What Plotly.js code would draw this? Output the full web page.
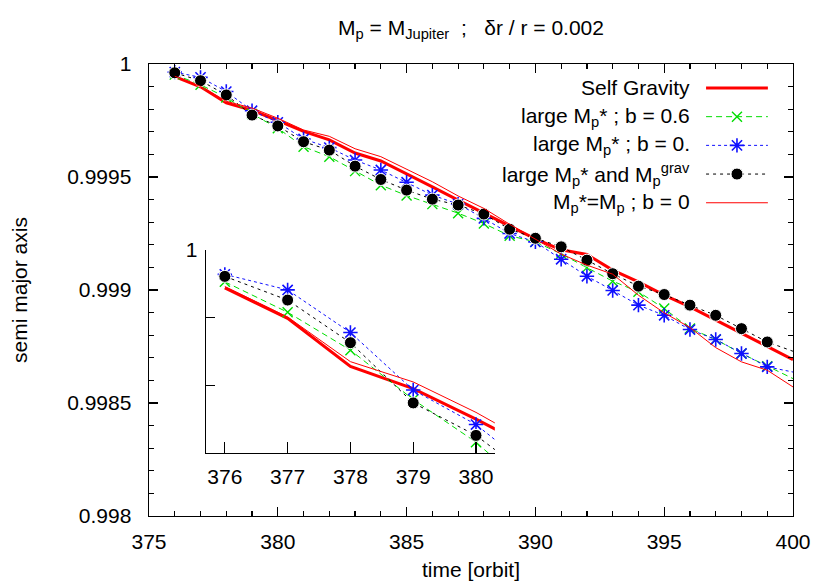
<!DOCTYPE html>
<html><head><meta charset="utf-8">
<script src="https://cdn.plot.ly/plotly-3.0.1.min.js"></script>
<style>html,body{margin:0;padding:0;background:#fff}#chart{width:830px;height:581px}</style>
</head><body><div id="chart"></div>
<script>
// ---- data ----
const orbits = [376,377,378,379,380,381,382,383,384,385,386,387,388,389,390,391,392,393,394,395,396,397,398,399,400];
const selfGravity = [0.999944,0.999899,0.999828,0.999795,0.999750,0.999702,0.999664,0.999606,0.999571,0.999512,0.999456,0.999398,0.999339,0.999283,0.999226,0.999178,0.999157,0.999088,0.999036,0.998977,0.998925,0.998866,0.998807,0.998751,0.998692];
const largeMpB06 = [0.999953,0.999908,0.999852,0.999779,0.999716,0.999634,0.999590,0.999526,0.999464,0.999418,0.999380,0.999340,0.999294,0.999240,0.999213,0.999160,0.999099,0.999039,0.998992,0.998918,0.998830,0.998781,0.998719,0.998663,0.998608];
const largeMpB0 = [0.999964,0.999941,0.999878,0.999793,0.999742,0.999668,0.999630,0.999575,0.999531,0.999477,0.999420,0.999380,0.999317,0.999250,0.999213,0.999136,0.999061,0.998998,0.998933,0.998888,0.998825,0.998781,0.998719,0.998660,0.998637];
const largeMpGrav = [0.999961,0.999926,0.999863,0.999774,0.999726,0.999656,0.999619,0.999548,0.999489,0.999442,0.999402,0.999376,0.999336,0.999269,0.999229,0.999191,0.999132,0.999072,0.999017,0.998980,0.998933,0.998888,0.998829,0.998770,0.998729];
const mpEqualMp = [0.999946,0.999901,0.999835,0.999805,0.999760,0.999708,0.999680,0.999625,0.999590,0.999535,0.999479,0.999416,0.999361,0.999291,0.999224,0.999159,0.999110,0.999070,0.998977,0.998899,0.998834,0.998745,0.998682,0.998645,0.998571];

const xTickVals = [375,380,385,390,395,400];
const yTickVals = [0.998,0.9985,0.999,0.9995,1];
const yTickText = ['0.998','0.9985','0.999','0.9995','1'];
const insetXTicks = [376,377,378,379,380];
const insetYTicks = [0.9998,0.9999,1];
const insetYText = ['','','1'];

const legendLabels = [
  'Self Gravity',
  'large M<sub>p</sub>* ; b = 0.6',
  'large M<sub>p</sub>* ; b = 0.',
  'large M<sub>p</sub>* and M<sub>p</sub><sup>grav</sup>',
  'M<sub>p</sub>*=M<sub>p</sub> ; b = 0'
];
const titleText = 'M<sub>p</sub> = M<sub>Jupiter</sub>\u00a0\u00a0;\u00a0\u00a0 δr / r = 0.002';

// ---- styles ----
const FONT = '"Liberation Sans", Arial, Helvetica, sans-serif';
const FS = 21;
const xMax = 400;
const styles = [
  {y: selfGravity, line:{color:'#ff0000', width:3}, mode:'lines'},
  {y: largeMpB06, line:{color:'#00dd00', width:1, dash:'6px,4px'}, mode:'lines+markers',
    marker:{symbol:'x-thin-open', size:10, opacity:1, line:{color:'#00dd00', width:1.4}}},
  {y: largeMpB0, line:{color:'#1010ff', width:1, dash:'3px,3px'}, mode:'lines+markers',
    marker:{symbol:'asterisk-open', size:12, opacity:1, line:{color:'#0000ff', width:1.6}}},
  {y: largeMpGrav, line:{color:'#000000', width:1, dash:'3px,4px'}, mode:'lines+markers',
    marker:{symbol:'circle', size:12, opacity:1, color:'#000000'}},
  {y: mpEqualMp, line:{color:'#ff0000', width:1}, mode:'lines'}
];

const traces = [];
function addSet(xa, ya) {
  styles.forEach(s => {
    const t = {x: orbits, y: s.y, xaxis: xa, yaxis: ya, mode: s.mode, line: s.line, hoverinfo:'skip', cliponaxis:true};
    if (s.marker) {
      t.marker = Object.assign({}, s.marker, {size: orbits.map(o => o < xMax ? s.marker.size : 0)});
    }
    traces.push(t);
  });
}
addSet('x','y');
addSet('x2','y2');

// legend samples on a hidden helper axis
const legendTop = 0.947, rowStep = 0.0635;
const sampleX = [0, 0.5, 1];
styles.forEach((s, i) => {
  const yr = legendTop - i*rowStep;
  const t = {x: sampleX, y: sampleX.map(() => yr), xaxis:'x3', yaxis:'y3', mode: s.mode, line: s.line, hoverinfo:'skip', cliponaxis:false};
  if (s.marker) t.marker = Object.assign({}, s.marker, {size: sampleX.map(v => v === 0.5 ? s.marker.size : 0)});
  traces.push(t);
});
const annotations = legendLabels.map((txt, i) => ({
  text: txt, xref:'paper', yref:'paper', x:0.843, y: legendTop - i*rowStep,
  xanchor:'right', yanchor:'middle', showarrow:false, font:{family:FONT, size:FS, color:'#000'}
}));

const axisCommon = {
  showgrid:false, zeroline:false, showline:true, linecolor:'#000', linewidth:1.4,
  ticks:'inside', tickcolor:'#000', tickwidth:1.2,
  tickfont:{family:FONT, size:FS, color:'#000'}
};

const layout = {
  width:830, height:581,
  margin:{l:149, r:37, t:64, b:65},
  paper_bgcolor:'#fff', plot_bgcolor:'rgba(0,0,0,0)',
  showlegend:false,
  font:{family:FONT, size:FS, color:'#000'},
  title:{text:titleText, x:0.5, xref:'paper', xanchor:'center', y:0.953, yref:'container', yanchor:'middle',
    font:{family:FONT, size:FS, color:'#000'}},
  xaxis: Object.assign({}, axisCommon, {
    range:[375,400], tickvals:xTickVals, ticklen:9, mirror:'ticks', ticklabelstandoff:6,
    minor:{dtick:1, ticklen:5, ticks:'inside', tickcolor:'#000', tickwidth:1.2},
    title:{text:'time [orbit]', standoff:10, font:{family:FONT, size:FS, color:'#000'}}
  }),
  yaxis: Object.assign({}, axisCommon, {
    range:[0.998,1], tickvals:yTickVals, ticktext:yTickText, ticklen:9, mirror:'ticks', ticklabelstandoff:12,
    minor:{dtick:0.0001, ticklen:5, ticks:'inside', tickcolor:'#000', tickwidth:1.2},
    title:{text:'semi major axis', standoff:34, font:{family:FONT, size:FS, color:'#000'}}
  }),
  xaxis2: Object.assign({}, axisCommon, {
    domain:[0.0885,0.537], anchor:'y2', range:[375.7,380.3], tickvals:insetXTicks, ticklen:11, ticklabelstandoff:4
  }),
  yaxis2: Object.assign({}, axisCommon, {
    domain:[0.1394,0.5885], anchor:'x2', range:[0.9997,1], tickvals:insetYTicks, ticktext:insetYText, ticklen:9, ticklabelstandoff:3
  }),
  xaxis3: {domain:[0.865,0.961], range:[0,1], visible:false, anchor:'y3', fixedrange:true},
  yaxis3: {domain:[0,1], range:[0,1], visible:false, anchor:'x3', fixedrange:true},
  annotations: annotations
};

Plotly.newPlot('chart', traces, layout, {staticPlot:true, displayModeBar:false});
</script>
</body></html>
